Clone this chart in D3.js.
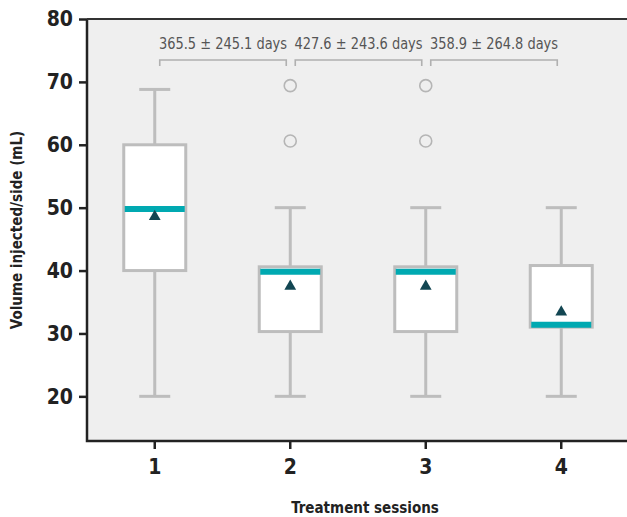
<!DOCTYPE html>
<html>
<head>
<meta charset="utf-8">
<script src="https://cdn.jsdelivr.net/npm/d3@7"></script>
<style>
  body { margin: 0; background: #fff; }
  svg text { font-family: "DejaVu Sans Condensed", "Roboto", sans-serif; }
</style>
</head>
<body>
<svg id="chart" width="627" height="517"></svg>
<script>
// Chart data
const sessions = ["1", "2", "3", "4"];
const whiskLow = [20, 20, 20, 20];
const q1 = [40, 30.3, 30.3, 31];
const median = [49.8, 39.8, 39.8, 31.4];
const q3 = [60, 40.6, 40.6, 40.8];
const whiskHigh = [68.8, 50, 50, 50];
const means = [48.6, 37.5, 37.5, 33.4];
const outliers = [[], [60.6, 69.4], [60.6, 69.4], []];
const intervalLabels = ["365.5 ± 245.1 days", "427.6 ± 243.6 days", "358.9 ± 264.8 days"];
const yTicks = [20, 30, 40, 50, 60, 70, 80];

var margin = {top: 19, right: -2, bottom: 76, left: 87};

var svg = d3.select("#chart");
var W = +svg.attr("width"), H = +svg.attr("height");
var w = W - margin.left - margin.right;
var h = H - margin.top - margin.bottom;

var boxes = sessions.map((s, i) => ({
    s: s, lo: whiskLow[i], q1: q1[i], med: median[i], q3: q3[i],
    hi: whiskHigh[i], mean: means[i], out: outliers[i]
}));

var x = d3.scaleBand().domain(sessions).range([0, w]).padding(0);
var y = d3.scaleLinear().domain([12.9, 80]).range([h, 0]);

var g = svg.append("g")
    .attr("transform", "translate(" + margin.left + "," + margin.top + ")");

// plot background
g.append("rect")
    .attr("width", w).attr("height", h)
    .attr("fill", "#efefef");

var cx = d => x(d.s) + x.bandwidth() / 2;
var boxW = 62, capW = 31;
var gray = "#bdbdbd";

var bx = g.selectAll(".box").data(boxes).enter().append("g").attr("class", "box");

// whisker stems
bx.append("line")
    .attr("x1", cx).attr("x2", cx)
    .attr("y1", d => y(d.lo)).attr("y2", d => y(d.hi))
    .attr("stroke", gray).attr("stroke-width", 3);
// caps
["lo", "hi"].forEach(k => {
    bx.append("line")
        .attr("x1", d => cx(d) - capW / 2).attr("x2", d => cx(d) + capW / 2)
        .attr("y1", d => y(d[k])).attr("y2", d => y(d[k]))
        .attr("stroke", gray).attr("stroke-width", 3);
});
// box
bx.append("rect")
    .attr("x", d => cx(d) - boxW / 2)
    .attr("y", d => y(d.q3))
    .attr("width", boxW)
    .attr("height", d => y(d.q1) - y(d.q3))
    .attr("fill", "#fff")
    .attr("stroke", gray).attr("stroke-width", 3);
// median
bx.append("line")
    .attr("x1", d => cx(d) - boxW / 2 + 1).attr("x2", d => cx(d) + boxW / 2 - 1)
    .attr("y1", d => y(d.med)).attr("y2", d => y(d.med))
    .attr("stroke", "#00a9b1").attr("stroke-width", 6);
// mean triangle
bx.append("path")
    .attr("d", d3.symbol(d3.symbolTriangle, 60))
    .attr("transform", d => "translate(" + cx(d) + "," + y(d.mean) + ")")
    .attr("fill", "#124652");
// outliers
bx.selectAll(".out").data(d => d.out.map(v => ({s: d.s, v: v}))).enter()
    .append("circle")
    .attr("cx", cx).attr("cy", d => y(d.v)).attr("r", 6)
    .attr("fill", "none").attr("stroke", "#b5b5b5").attr("stroke-width", 1.6);

// interval brackets between sessions
var brY = 41, legH = 6;
intervalLabels.forEach((lab, i) => {
    var a = cx(boxes[i]) + 5, b = cx(boxes[i + 1]) - 4;
    g.append("path")
        .attr("d", "M" + a + "," + (brY + legH) + "V" + brY + "H" + b + "V" + (brY + legH))
        .attr("fill", "none").attr("stroke", "#b0b0b0").attr("stroke-width", 1.6);
    g.append("text")
        .attr("x", (a + b) / 2).attr("y", brY - 11)
        .attr("text-anchor", "middle")
        .attr("font-size", 16).attr("fill", "#555")
        .attr("textLength", 128).attr("lengthAdjust", "spacingAndGlyphs")
        .text(lab);
});

// axes
var yAxis = g.append("g")
    .call(d3.axisLeft(y).tickValues(yTicks).tickSize(8).tickPadding(6));
var xAxis = g.append("g")
    .attr("transform", "translate(0," + h + ")")
    .call(d3.axisBottom(x).tickSize(8).tickPadding(10));

[yAxis, xAxis].forEach(a => {
    a.select(".domain").remove();
    a.selectAll("line").attr("stroke", "#222").attr("stroke-width", 2.5);
    a.selectAll("text").attr("font-size", 21).attr("font-weight", "bold").attr("fill", "#222");
});

// frame: left, bottom, top
g.append("path")
    .attr("d", "M0,0V" + h + "H" + w)
    .attr("fill", "none").attr("stroke", "#222").attr("stroke-width", 2.5);
g.append("line")
    .attr("x1", 0).attr("x2", w).attr("y1", 0).attr("y2", 0)
    .attr("stroke", "#333").attr("stroke-width", 2);

// axis titles
svg.append("text")
    .attr("transform", "rotate(-90)")
    .attr("x", -(margin.top + h / 2)).attr("y", 22)
    .attr("text-anchor", "middle")
    .attr("font-size", 15).attr("font-weight", "bold").attr("fill", "#222")
    .text("Volume injected/side (mL)");
svg.append("text")
    .attr("x", 365).attr("y", 513)
    .attr("text-anchor", "middle")
    .attr("font-size", 15).attr("font-weight", "bold").attr("fill", "#222")
    .text("Treatment sessions");
</script>
</body>
</html>
